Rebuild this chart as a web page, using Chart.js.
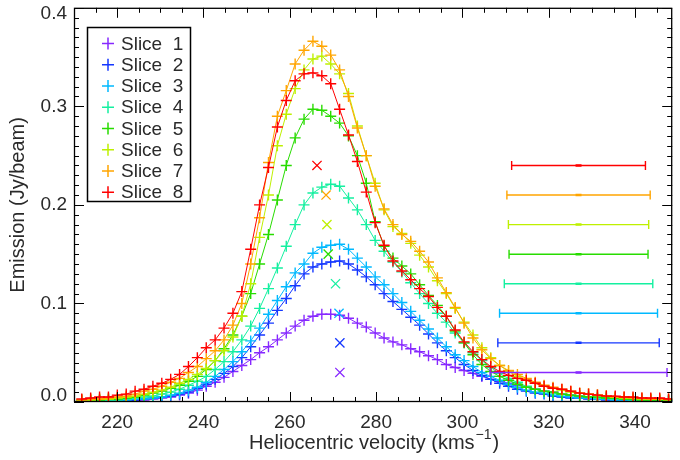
<!DOCTYPE html>
<html><head><meta charset="utf-8">
<script src="https://cdn.jsdelivr.net/npm/chart.js@4"></script>
<style>html,body{margin:0;padding:0;background:#fff}canvas{display:block}</style>
</head><body><canvas id="c" width="680" height="460"></canvas>
<script>
// ---- data ----
const velocities = [211.8,213.86,215.92,217.98,220.04,222.1,224.16,226.22,228.28,230.34,232.4,234.46,236.52,238.58,240.64,242.7,244.76,246.82,248.88,250.94,253.0,255.06,257.12,259.18,261.24,263.3,265.36,267.42,269.48,271.54,273.6,275.66,277.72,279.78,281.84,283.9,285.96,288.02,290.08,292.14,294.2,296.26,298.32,300.38,302.44,304.5,306.56,308.62,310.68,312.74,314.8,316.86,318.92,320.98,323.04,325.1,327.16,329.22,331.28,333.34,335.4,337.46,339.52,341.58,343.64,345.7,347.76];

const slice1 = [0.0,0.0,0.001,0.001,0.001,0.001,0.002,0.002,0.003,0.004,0.005,0.007,0.009,0.012,0.016,0.02,0.025,0.031,0.037,0.043,0.05,0.056,0.063,0.07,0.077,0.083,0.087,0.089,0.089,0.088,0.085,0.08,0.076,0.07,0.065,0.061,0.058,0.054,0.051,0.047,0.043,0.038,0.035,0.032,0.029,0.026,0.023,0.021,0.019,0.017,0.015,0.013,0.011,0.01,0.008,0.007,0.006,0.005,0.004,0.004,0.003,0.002,0.002,0.002,0.001,0.001,0.001];
const slice2 = [0.001,0.001,0.001,0.001,0.001,0.002,0.002,0.003,0.004,0.005,0.006,0.008,0.01,0.014,0.018,0.023,0.029,0.036,0.045,0.056,0.068,0.08,0.093,0.105,0.118,0.13,0.137,0.14,0.142,0.143,0.14,0.134,0.127,0.119,0.11,0.102,0.094,0.086,0.078,0.069,0.06,0.052,0.045,0.038,0.032,0.027,0.023,0.019,0.016,0.013,0.011,0.009,0.008,0.006,0.005,0.004,0.004,0.003,0.003,0.002,0.002,0.002,0.001,0.001,0.001,0.001,0.001];
const slice3 = [0.001,0.001,0.001,0.001,0.002,0.002,0.003,0.003,0.004,0.005,0.007,0.009,0.012,0.015,0.02,0.026,0.033,0.041,0.051,0.062,0.075,0.089,0.103,0.117,0.131,0.14,0.151,0.157,0.159,0.16,0.155,0.146,0.137,0.127,0.119,0.11,0.101,0.092,0.083,0.074,0.065,0.056,0.048,0.042,0.036,0.03,0.026,0.022,0.018,0.015,0.012,0.01,0.009,0.007,0.006,0.005,0.004,0.004,0.003,0.003,0.002,0.002,0.002,0.001,0.001,0.001,0.001];
const slice4 = [0.001,0.001,0.002,0.002,0.002,0.003,0.004,0.005,0.006,0.008,0.01,0.013,0.017,0.021,0.026,0.033,0.041,0.051,0.063,0.077,0.095,0.115,0.136,0.158,0.18,0.2,0.212,0.218,0.221,0.219,0.207,0.195,0.18,0.164,0.153,0.142,0.132,0.121,0.11,0.1,0.09,0.081,0.07,0.06,0.05,0.042,0.035,0.029,0.024,0.02,0.016,0.013,0.011,0.009,0.008,0.007,0.006,0.005,0.004,0.004,0.003,0.003,0.002,0.002,0.002,0.001,0.001];
const slice5 = [0.002,0.002,0.002,0.003,0.003,0.004,0.005,0.007,0.009,0.011,0.014,0.017,0.021,0.026,0.033,0.042,0.054,0.068,0.087,0.11,0.14,0.17,0.205,0.24,0.268,0.287,0.297,0.296,0.29,0.283,0.27,0.25,0.222,0.183,0.158,0.146,0.138,0.13,0.119,0.108,0.098,0.087,0.072,0.06,0.048,0.038,0.031,0.026,0.022,0.018,0.015,0.013,0.011,0.01,0.008,0.007,0.006,0.005,0.005,0.004,0.004,0.003,0.003,0.002,0.002,0.002,0.002];
const slice6 = [0.002,0.002,0.003,0.003,0.004,0.005,0.006,0.008,0.01,0.012,0.015,0.019,0.023,0.028,0.034,0.042,0.052,0.066,0.087,0.12,0.167,0.21,0.26,0.292,0.318,0.337,0.348,0.351,0.343,0.333,0.313,0.28,0.25,0.222,0.195,0.178,0.171,0.161,0.149,0.137,0.123,0.11,0.095,0.081,0.068,0.055,0.045,0.037,0.031,0.026,0.022,0.019,0.016,0.014,0.012,0.01,0.009,0.008,0.007,0.006,0.005,0.004,0.004,0.003,0.003,0.003,0.002];
const slice7 = [0.002,0.003,0.003,0.004,0.005,0.006,0.008,0.011,0.013,0.016,0.02,0.024,0.03,0.036,0.044,0.052,0.063,0.078,0.1,0.14,0.187,0.243,0.29,0.316,0.343,0.357,0.366,0.361,0.352,0.337,0.31,0.278,0.25,0.219,0.196,0.18,0.17,0.163,0.153,0.142,0.126,0.111,0.096,0.08,0.065,0.053,0.044,0.037,0.032,0.028,0.024,0.02,0.017,0.015,0.013,0.011,0.009,0.008,0.007,0.006,0.005,0.005,0.004,0.004,0.003,0.003,0.003];
const slice8 = [0.003,0.004,0.005,0.005,0.007,0.008,0.011,0.013,0.016,0.019,0.023,0.028,0.036,0.045,0.055,0.063,0.075,0.09,0.112,0.155,0.2,0.238,0.279,0.306,0.326,0.333,0.334,0.331,0.323,0.297,0.271,0.244,0.213,0.182,0.159,0.143,0.133,0.124,0.115,0.107,0.096,0.087,0.073,0.061,0.051,0.043,0.036,0.031,0.027,0.024,0.022,0.019,0.016,0.014,0.013,0.011,0.009,0.008,0.007,0.006,0.006,0.005,0.005,0.004,0.004,0.004,0.003];

const sliceNames = ['Slice  1','Slice  2','Slice  3','Slice  4','Slice  5','Slice  6','Slice  7','Slice  8'];
const sliceColors = ['rgb(135,40,255)','rgb(20,55,255)','rgb(0,185,255)','rgb(20,240,160)','rgb(40,220,0)','rgb(190,240,0)','rgb(255,165,0)','rgb(255,0,0)'];

// centroid markers (x) and width bars on the right
const meanVelocity = [271.6,271.6,271.4,270.6,268.9,268.6,268.4,266.3];
const markerLevel  = [0.03,0.06,0.09,0.12,0.15,0.18,0.21,0.24];
const widthCentre  = 326.9;
const halfWidth    = [20.5,18.7,18.3,17.2,16.1,16.25,16.6,15.5];

const xTickLabels = [220,240,260,280,300,320,340];
const yTickLabels = [0.0,0.1,0.2,0.3,0.4];

// ---- build datasets ----
const allSlices = [slice1,slice2,slice3,slice4,slice5,slice6,slice7,slice8];
const datasets = [];
allSlices.forEach((s,k)=>{
  const col = sliceColors[k];
  datasets.push({
    data: velocities.map((v,i)=>({x:v,y:s[i]})),
    showLine:true, borderColor:col, borderWidth:1, tension:0,
    pointStyle:'cross', pointRadius:5.5, pointBorderWidth:1.4,
    pointBorderColor:col, pointBackgroundColor:col, order: 30-k
  });
  datasets.push({
    data:[{x:meanVelocity[k], y:markerLevel[k]}],
    showLine:false, pointStyle:'crossRot', pointRadius:6.5, pointBorderWidth:1.3,
    pointBorderColor:col, order: 20-k
  });
  const h = halfWidth[k];
  datasets.push({
    data:[{x:widthCentre-h,y:markerLevel[k]},{x:widthCentre,y:markerLevel[k]},{x:widthCentre+h,y:markerLevel[k]}],
    showLine:true, borderColor:col, borderWidth:1.4, tension:0,
    pointStyle:'line', pointRotation:[90,0,90], pointRadius:[4.5,3,4.5], pointBorderWidth:[1.4,2.5,1.4],
    pointBorderColor:col, order: 10-k
  });
});

const FONT = '19px "Liberation Sans", Arial, sans-serif';
const TFONT = '20px "Liberation Sans", Arial, sans-serif';
const TXT = '#2a2a2a';

const decor = {
  id:'decor',
  afterDraw(chart){
    const ctx = chart.ctx, a = chart.chartArea;
    const xs = chart.scales.x, ys = chart.scales.y;
    ctx.save();
    // frame
    ctx.strokeStyle = '#000'; ctx.lineWidth = 1.3;
    ctx.strokeRect(a.left+0.5, a.top+0.5, a.right-a.left-1, a.bottom-a.top-1);
    ctx.lineWidth = 1;
    // x ticks (bottom & top, inward)
    for (let v = 210; v <= 349; v += 5){
      const px = Math.round(xs.getPixelForValue(v))+0.5;
      if (px < a.left+1 || px > a.right-1) continue;
      const len = (v % 20 === 0) ? 10 : 5;
      ctx.beginPath();
      ctx.moveTo(px, a.bottom); ctx.lineTo(px, a.bottom-len);
      ctx.moveTo(px, a.top); ctx.lineTo(px, a.top+len);
      ctx.stroke();
    }
    // y ticks (left & right, inward)
    for (let i = 0; i <= 40; i++){
      const v = i/100;
      const py = Math.round(ys.getPixelForValue(v))+0.5;
      const len = (i % 10 === 0) ? 10 : 5;
      ctx.beginPath();
      ctx.moveTo(a.left, py); ctx.lineTo(a.left+len, py);
      ctx.moveTo(a.right, py); ctx.lineTo(a.right-len, py);
      ctx.stroke();
    }
    // tick labels
    ctx.fillStyle = TXT; ctx.font = FONT;
    ctx.textAlign = 'center'; ctx.textBaseline = 'middle';
    xTickLabels.forEach(v=>{
      ctx.fillText(String(v), xs.getPixelForValue(v), a.bottom+21);
    });
    ctx.textAlign = 'right';
    yTickLabels.forEach(v=>{
      let py = ys.getPixelForValue(v);
      py = Math.min(Math.max(py, 14), 396);
      ctx.fillText(v.toFixed(1), a.left-7, py);
    });
    // x title with superscript
    const main = 'Heliocentric velocity (kms', sup = '\u22121', close = ')';
    const SFONT = '14px "Liberation Sans", Arial, sans-serif';
    ctx.font = TFONT; const w1 = ctx.measureText(main).width, w3 = ctx.measureText(close).width;
    ctx.font = SFONT; const w2 = ctx.measureText(sup).width;
    const cx = (a.left+a.right)/2, ty = 443;
    let x0 = cx - (w1+w2+w3)/2;
    ctx.textAlign = 'left';
    ctx.font = TFONT; ctx.fillText(main, x0, ty);
    ctx.font = SFONT; ctx.fillText(sup, x0+w1+1, ty-8);
    ctx.font = TFONT; ctx.fillText(close, x0+w1+w2+2, ty);
    // y title
    ctx.save();
    ctx.translate(18, (a.top+a.bottom)/2);
    ctx.rotate(-Math.PI/2);
    ctx.textAlign = 'center';
    ctx.font = TFONT;
    ctx.fillText('Emission (Jy/beam)', 0, 0);
    ctx.restore();
    // legend box
    const lx = 87.5, ly = 27.5, lw = 103, lh = 174;
    ctx.fillStyle = '#fff'; ctx.fillRect(lx, ly, lw, lh);
    ctx.strokeStyle = '#000'; ctx.lineWidth = 1.5; ctx.strokeRect(lx, ly, lw, lh);
    sliceNames.forEach((name,k)=>{
      const y = 43.5 + k*21.25;
      ctx.strokeStyle = sliceColors[k]; ctx.lineWidth = 1.5;
      ctx.beginPath();
      ctx.moveTo(102, y); ctx.lineTo(114, y);
      ctx.moveTo(108, y-6); ctx.lineTo(108, y+6);
      ctx.stroke();
      ctx.fillStyle = TXT; ctx.font = FONT; ctx.textAlign = 'left'; ctx.textBaseline = 'middle';
      ctx.fillText(name, 121, y+1);
    });
    ctx.restore();
  }
};

new Chart(document.getElementById('c'), {
  type:'scatter',
  data:{datasets},
  options:{
    responsive:false, animation:false, devicePixelRatio:1,
    layout:{padding:{left:0,right:2,top:5,bottom:0}},
    plugins:{legend:{display:false}, tooltip:{enabled:false}},
    scales:{
      x:{type:'linear', min:210, max:348.6,
         ticks:{display:false}, grid:{display:false}, border:{display:false},
         afterFit(s){ s.height = 58; }},
      y:{type:'linear', min:0, max:0.4,
         ticks:{display:false}, grid:{display:false}, border:{display:false},
         afterFit(s){ s.width = 74; }}
    }
  },
  plugins:[decor]
});
</script>
</body></html>
